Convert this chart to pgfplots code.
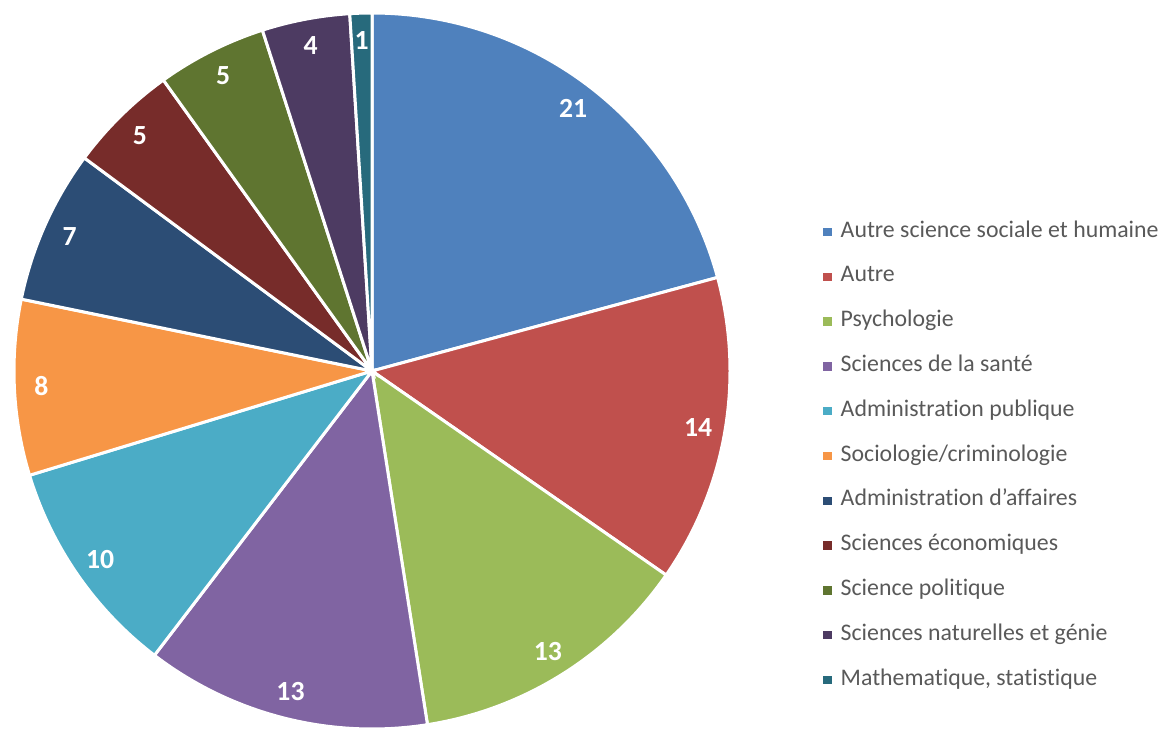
\documentclass[border=0pt]{standalone}
\usepackage{fontspec}
\setmainfont{Carlito}[Ligatures={NoCommon}]
\usepackage{pgfplots}
\pgfplotsset{compat=1.18}
\definecolor{c1}{HTML}{4F81BD}
\definecolor{c2}{HTML}{C0504D}
\definecolor{c3}{HTML}{9BBB59}
\definecolor{c4}{HTML}{8064A2}
\definecolor{c5}{HTML}{4BACC6}
\definecolor{c6}{HTML}{F79646}
\definecolor{c7}{HTML}{2C4D75}
\definecolor{c8}{HTML}{772C2A}
\definecolor{c9}{HTML}{5F7530}
\definecolor{c10}{HTML}{4D3B62}
\definecolor{c11}{HTML}{276A7C}
\definecolor{txtgray}{HTML}{595959}
\tikzset{lbl/.style={font=\fontsize{13.9}{15}\selectfont\bfseries, text=white, inner sep=0pt}}
\begin{document}
\begin{tikzpicture}
\begin{axis}[x=0.5bp, y=0.5bp, xmin=-372, xmax=792, ymin=-359, ymax=371,
  hide axis, clip=false,
  legend entries={Autre science sociale et humaine, Autre, Psychologie, Sciences de la santé, Administration publique, Sociologie/criminologie, Administration d’affaires, Sciences économiques, Science politique, Sciences naturelles et génie, {Mathematique, statistique}},
  legend cell align=left,
  legend style={at={(axis cs:451,149)}, anchor=north west, draw=none, fill=none,
    inner sep=0pt, outer sep=0pt, font=\fontsize{11.95}{13}\selectfont, text=txtgray,
    row sep=12.4bp, nodes={inner sep=0pt, text height=7.5bp, text depth=2.5bp},
    /tikz/every odd column/.append style={column sep=4.6bp}},
  legend image code/.code={\fill[#1, draw=none] (0bp,-2.1bp) rectangle (4.25bp,2.15bp);},
]
\gdef\cum{0}
\foreach \v/\c in {21/c1,14/c2,13/c3,13/c4,10/c5,8/c6,7/c7,5/c8,5/c9,4/c10,1/c11}{
  \pgfmathsetmacro\a{90-(\cum/101)*360}
  \pgfmathsetmacro\b{90-((\cum+\v)/101)*360}
  \pgfmathsetmacro\m{(\a+\b)/2}
  \pgfmathsetmacro\lx{331*cos(\m)}
  \pgfmathsetmacro\ly{331*sin(\m)}
  \edef\tmp{\noexpand\addplot[fill=\c, draw=white, line width=1.5bp, domain=\b:\a, samples=80, variable=\noexpand\t] ({358*cos(\noexpand\t)},{358*sin(\noexpand\t)}) -- (axis cs:0,0) -- cycle;
  \noexpand\node[lbl] at (axis cs:\lx,\ly) {\v};}
  \tmp
  \pgfmathsetmacro\cn{\cum+\v}
  \xdef\cum{\cn}
}
\end{axis}
\pgfresetboundingbox
\path (current axis.south west) rectangle (current axis.north east);
\end{tikzpicture}
\end{document}
